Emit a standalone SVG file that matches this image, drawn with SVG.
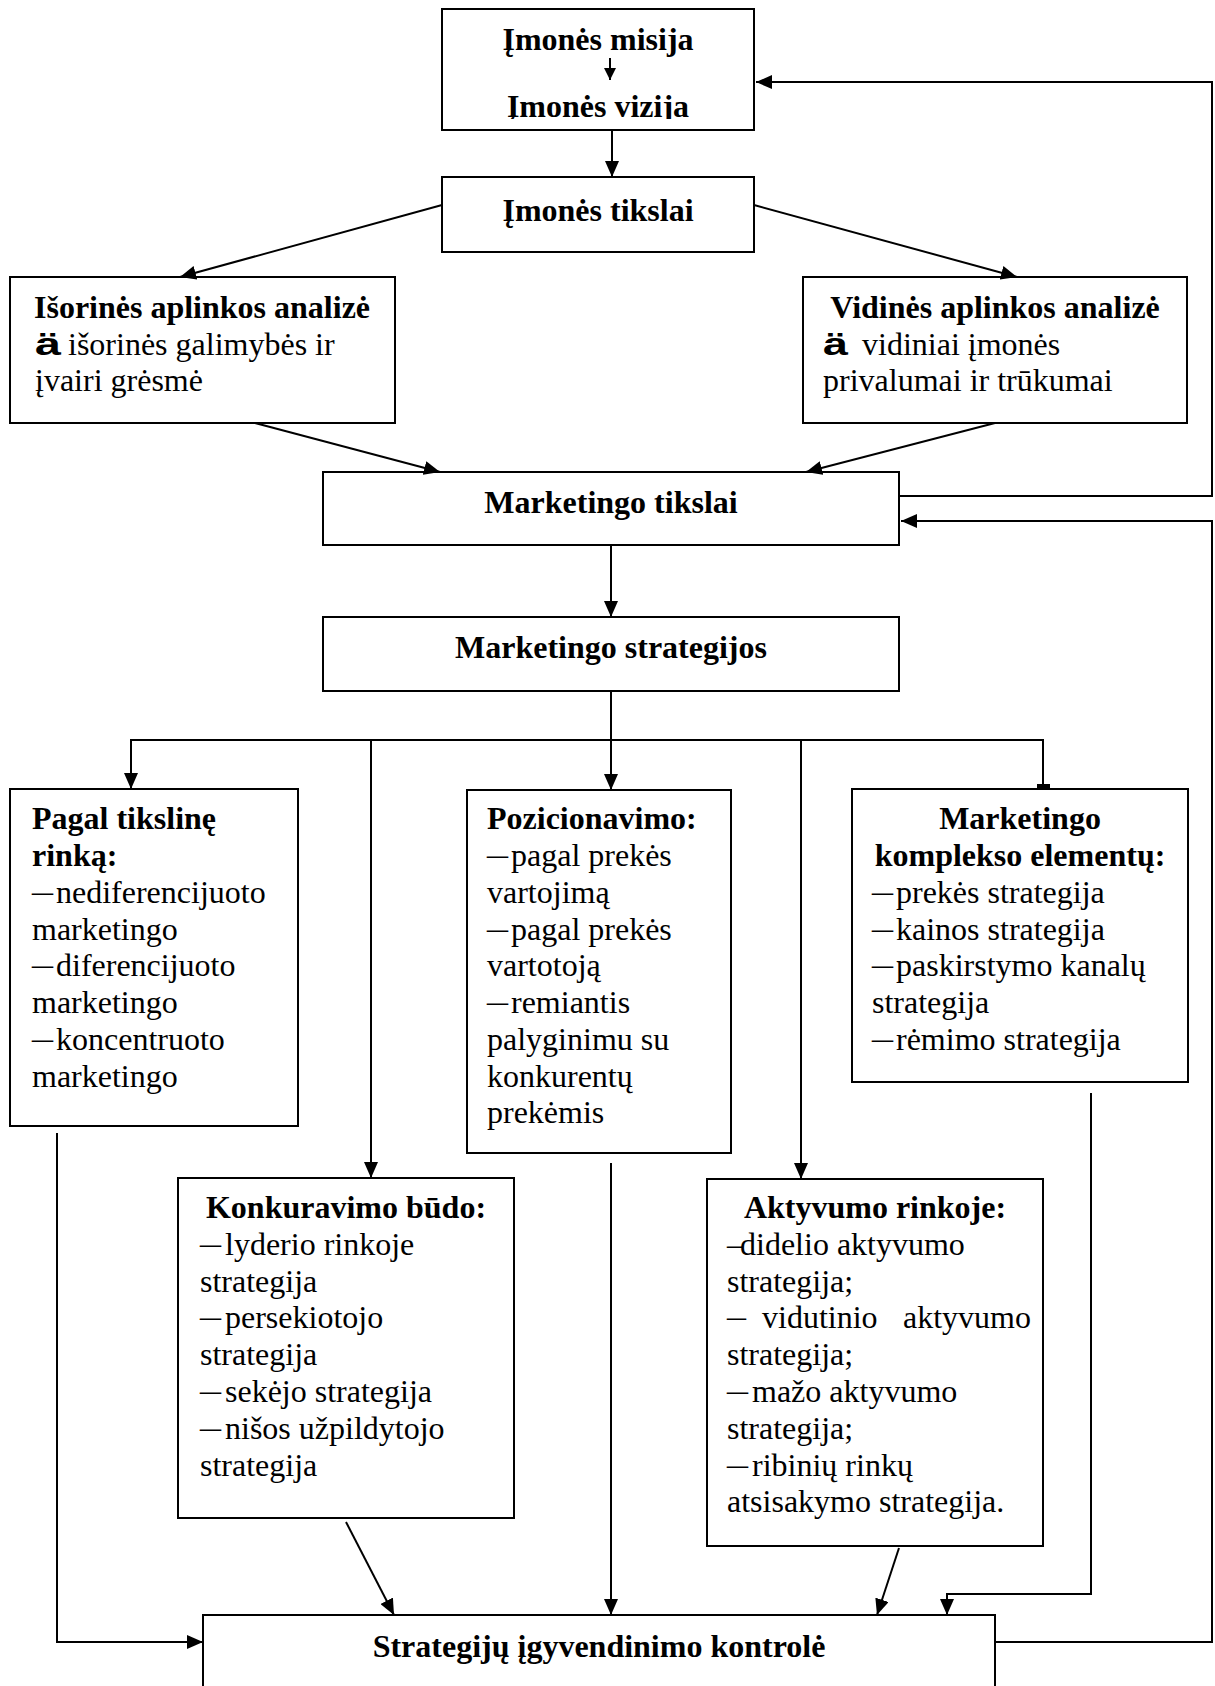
<svg xmlns="http://www.w3.org/2000/svg" width="1215" height="1686" viewBox="0 0 1215 1686">
  <style>
    .box { fill: #fff; stroke: #000; stroke-width: 2; }
    .t { font-family: "Liberation Serif", "Times New Roman", serif; font-size: 32px; fill: #000; }
    .b { font-weight: bold; }
    .c { text-anchor: middle; }
    .sym { font-family: "Liberation Sans", Arial, sans-serif; font-size: 32px; font-weight: bold; fill: #000; }
    .ln { fill: none; stroke: #000; stroke-width: 2; }
    .arr { marker-end: url(#ah); }
  </style>
  <defs>
    <marker id="ah" viewBox="0 0 16 14" refX="16" refY="7" markerWidth="16" markerHeight="14" markerUnits="userSpaceOnUse" orient="auto">
      <path d="M0,0 L16,7 L0,14 z" fill="#000"/>
    </marker>
    <marker id="ahs" viewBox="0 0 12 12" refX="12" refY="6" markerWidth="12" markerHeight="12" markerUnits="userSpaceOnUse" orient="auto">
      <path d="M0,0 L12,6 L0,12 z" fill="#000"/>
    </marker>
    <clipPath id="visionClip">
      <rect x="442" y="84" width="312" height="35"/>
    </clipPath>
  </defs>

  <rect width="1215" height="1686" fill="#fff"/>

  <!-- mission and vision -->
  <g id="mission">
    <rect class="box" x="442" y="9" width="312" height="121"/>
    <text class="t b c" x="598" y="50">Įmonės misija</text>
    <text class="t b c" x="598" y="117" clip-path="url(#visionClip)">Įmonės vizija</text>
  </g>

  <g id="goals">
    <rect class="box" x="442" y="177" width="312" height="75"/>
    <text class="t b c" x="598" y="221">Įmonės tikslai</text>
  </g>

  <g id="external">
    <rect class="box" x="10" y="277" width="385" height="146"/>
    <text class="t b c" x="202" y="318">Išorinės aplinkos analizė</text>
    <text class="sym" x="35" y="355" textLength="26" lengthAdjust="spacingAndGlyphs">ä</text>
    <text class="t" x="68" y="355">išorinės galimybės ir</text>
    <text class="t" x="35" y="391">įvairi grėsmė</text>
  </g>

  <g id="internal">
    <rect class="box" x="803" y="277" width="384" height="146"/>
    <text class="t b c" x="995" y="318">Vidinės aplinkos analizė</text>
    <text class="sym" x="823" y="355" textLength="25" lengthAdjust="spacingAndGlyphs">ä</text>
    <text class="t" x="862" y="355">vidiniai įmonės</text>
    <text class="t" x="823" y="391">privalumai ir trūkumai</text>
  </g>

  <g id="mkt-goals">
    <rect class="box" x="323" y="472" width="576" height="73"/>
    <text class="t b c" x="611" y="513">Marketingo tikslai</text>
  </g>

  <g id="mkt-strategies">
    <rect class="box" x="323" y="617" width="576" height="74"/>
    <text class="t b c" x="611" y="658">Marketingo strategijos</text>
  </g>

  <g id="target-market">
    <rect class="box" x="10" y="789" width="288" height="337"/>
    <text class="t b" x="32" y="829">Pagal tikslinę</text>
    <text class="t b" x="32" y="866">rinką:</text>
    <text class="t" x="32" y="902" textLength="21" lengthAdjust="spacingAndGlyphs">–</text>
    <text class="t" x="56" y="903">nediferencijuoto</text>
    <text class="t" x="32" y="940">marketingo</text>
    <text class="t" x="32" y="975" textLength="21" lengthAdjust="spacingAndGlyphs">–</text>
    <text class="t" x="56" y="976">diferencijuoto</text>
    <text class="t" x="32" y="1013">marketingo</text>
    <text class="t" x="32" y="1049" textLength="21" lengthAdjust="spacingAndGlyphs">–</text>
    <text class="t" x="56" y="1050">koncentruoto</text>
    <text class="t" x="32" y="1087">marketingo</text>
  </g>

  <g id="positioning">
    <rect class="box" x="467" y="790" width="264" height="363"/>
    <text class="t b" x="487" y="829">Pozicionavimo:</text>
    <text class="t" x="487" y="865" textLength="21" lengthAdjust="spacingAndGlyphs">–</text>
    <text class="t" x="511" y="866">pagal prekės</text>
    <text class="t" x="487" y="903">vartojimą</text>
    <text class="t" x="487" y="939" textLength="21" lengthAdjust="spacingAndGlyphs">–</text>
    <text class="t" x="511" y="940">pagal prekės</text>
    <text class="t" x="487" y="976">vartotoją</text>
    <text class="t" x="487" y="1012" textLength="21" lengthAdjust="spacingAndGlyphs">–</text>
    <text class="t" x="511" y="1013">remiantis</text>
    <text class="t" x="487" y="1050">palyginimu su</text>
    <text class="t" x="487" y="1087">konkurentų</text>
    <text class="t" x="487" y="1123">prekėmis</text>
  </g>

  <g id="mix">
    <rect class="box" x="852" y="789" width="336" height="293"/>
    <text class="t b c" x="1020" y="829">Marketingo</text>
    <text class="t b c" x="1020" y="866">komplekso elementų:</text>
    <text class="t" x="872" y="902" textLength="21" lengthAdjust="spacingAndGlyphs">–</text>
    <text class="t" x="896" y="903">prekės strategija</text>
    <text class="t" x="872" y="939" textLength="21" lengthAdjust="spacingAndGlyphs">–</text>
    <text class="t" x="896" y="940">kainos strategija</text>
    <text class="t" x="872" y="975" textLength="21" lengthAdjust="spacingAndGlyphs">–</text>
    <text class="t" x="896" y="976">paskirstymo kanalų</text>
    <text class="t" x="872" y="1013">strategija</text>
    <text class="t" x="872" y="1049" textLength="21" lengthAdjust="spacingAndGlyphs">–</text>
    <text class="t" x="896" y="1050">rėmimo strategija</text>
  </g>

  <g id="competition">
    <rect class="box" x="178" y="1178" width="336" height="340"/>
    <text class="t b c" x="346" y="1218">Konkuravimo būdo:</text>
    <text class="t" x="200" y="1254" textLength="21" lengthAdjust="spacingAndGlyphs">–</text>
    <text class="t" x="225" y="1255">lyderio rinkoje</text>
    <text class="t" x="200" y="1292">strategija</text>
    <text class="t" x="200" y="1327" textLength="21" lengthAdjust="spacingAndGlyphs">–</text>
    <text class="t" x="225" y="1328">persekiotojo</text>
    <text class="t" x="200" y="1365">strategija</text>
    <text class="t" x="200" y="1401" textLength="21" lengthAdjust="spacingAndGlyphs">–</text>
    <text class="t" x="225" y="1402">sekėjo strategija</text>
    <text class="t" x="200" y="1438" textLength="21" lengthAdjust="spacingAndGlyphs">–</text>
    <text class="t" x="225" y="1439">nišos užpildytojo</text>
    <text class="t" x="200" y="1476">strategija</text>
  </g>

  <g id="activity">
    <rect class="box" x="707" y="1179" width="336" height="367"/>
    <text class="t b c" x="875" y="1218">Aktyvumo rinkoje:</text>
    <text class="t" x="727" y="1255">–<tspan dx="-3">didelio aktyvumo</tspan></text>
    <text class="t" x="727" y="1292">strategija;</text>
    <text class="t" x="727" y="1327" textLength="19" lengthAdjust="spacingAndGlyphs">–</text>
    <text class="t" x="762" y="1328">vidutinio</text>
    <text class="t" x="903" y="1328">aktyvumo</text>
    <text class="t" x="727" y="1365">strategija;</text>
    <text class="t" x="727" y="1401" textLength="21" lengthAdjust="spacingAndGlyphs">–</text>
    <text class="t" x="752" y="1402">mažo aktyvumo</text>
    <text class="t" x="727" y="1439">strategija;</text>
    <text class="t" x="727" y="1475" textLength="21" lengthAdjust="spacingAndGlyphs">–</text>
    <text class="t" x="752" y="1476">ribinių rinkų</text>
    <text class="t" x="727" y="1512">atsisakymo strategija.</text>
  </g>

  <g id="control">
    <rect class="box" x="203" y="1615" width="792" height="90"/>
    <text class="t b c" x="599" y="1657">Strategijų įgyvendinimo kontrolė</text>
  </g>

  <!-- connectors, drawn over the boxes so the arrow tips stay visible -->
  <g id="connectors">
    <line class="ln" x1="610" y1="58" x2="610" y2="80" marker-end="url(#ahs)"/>
    <line class="ln arr" x1="612" y1="130" x2="612" y2="177"/>
    <line class="ln arr" x1="442" y1="205" x2="180" y2="277"/>
    <line class="ln arr" x1="754" y1="205" x2="1017" y2="277"/>
    <line class="ln arr" x1="255" y1="423" x2="440" y2="472"/>
    <line class="ln arr" x1="995" y1="423" x2="806" y2="472"/>
    <line class="ln arr" x1="611" y1="545" x2="611" y2="617"/>
    <line class="ln" x1="611" y1="691" x2="611" y2="740"/>
    <line class="ln" x1="130" y1="740" x2="1044" y2="740"/>
    <line class="ln arr" x1="131" y1="740" x2="131" y2="789"/>
    <line class="ln arr" x1="371" y1="740" x2="371" y2="1178"/>
    <line class="ln arr" x1="611" y1="740" x2="611" y2="790"/>
    <line class="ln arr" x1="801" y1="740" x2="801" y2="1179"/>
    <line class="ln" x1="1043" y1="740" x2="1043" y2="787"/>
    <rect x="1037" y="784" width="13" height="5" fill="#000"/>
    <path class="ln arr" d="M899,496 H1212 V82 H756"/>
    <path class="ln arr" d="M995,1642 H1212 V521 H901"/>
    <path class="ln arr" d="M57,1133 V1642 H203"/>
    <path class="ln arr" d="M1091,1093 V1594 H947 V1615"/>
    <line class="ln arr" x1="346" y1="1522" x2="394" y2="1615"/>
    <line class="ln arr" x1="611" y1="1163" x2="611" y2="1615"/>
    <line class="ln arr" x1="899" y1="1548" x2="877" y2="1615"/>
  </g>
</svg>
